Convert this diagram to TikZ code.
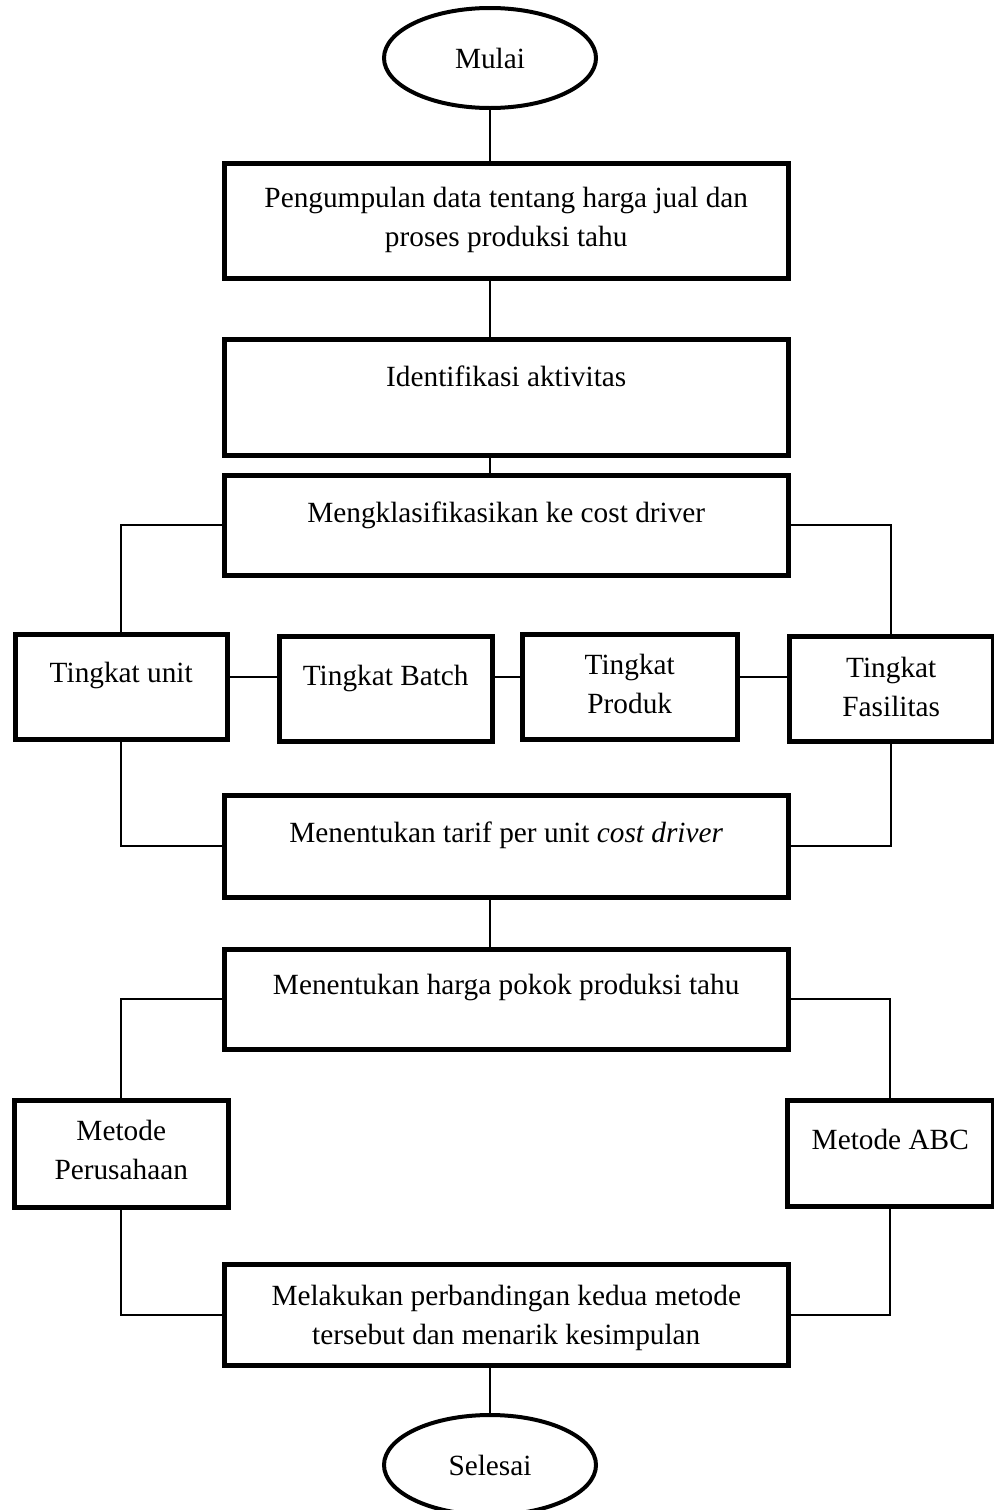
\documentclass[tikz,border=0pt]{standalone}
\usepackage{fontspec}
\setmainfont{Liberation Serif}
\usetikzlibrary{calc}
\usetikzlibrary{shapes.geometric}

\newcommand{\huruf}{\fontsize{14.65pt}{19.5pt}\selectfont}

\begin{document}
\begin{tikzpicture}[x=0.5pt, y=-0.5pt,
    kotak/.style={draw, line width=2.25pt, rectangle, anchor=north west,
        inner xsep=0pt, inner ysep=0pt, align=center, font=\huruf},
    terminal/.style={draw, line width=2pt, ellipse, minimum width=106pt,
        minimum height=50pt, inner sep=0pt, font=\huruf},
    garis/.style={line width=0.8pt}]

            % Page frame
            \path[fill=white, use as bounding box] (0,0) rectangle (993,1510);

            \def\lebar{282pt} % width of the main boxes
            \def\kiri{222}    % left side of the main boxes

            % Draw start
            \node[terminal] (mulai) at (490,58) {Mulai};

            % Draw main steps
            \node[kotak, minimum width=\lebar, text height=41.5pt, text depth=16pt] (kumpul) at (\kiri,161)
                {Pengumpulan data tentang harga jual dan\\proses produksi tahu};
            \node[kotak, minimum width=\lebar, text height=23.5pt, text depth=34.5pt] (identifikasi) at (\kiri,337)
                {Identifikasi aktivitas};
            \node[kotak, minimum width=\lebar, text height=23.5pt, text depth=26.5pt] (klasifikasi) at (\kiri,473)
                {Mengklasifikasikan ke cost driver};

            % Draw cost driver levels
            \node[kotak, minimum width=106pt, text height=24pt, text depth=28.5pt] (unit) at (13,632)
                {Tingkat unit};
            \node[kotak, minimum width=106.5pt, text height=24.5pt, text depth=28pt] (batch) at (277,634)
                {Tingkat Batch};
            \node[kotak, minimum width=107.5pt, text height=39.5pt, text depth=13pt] (produk) at (520,632)
                {Tingkat\\Produk};
            \node[kotak, minimum width=102pt, text height=40pt, text depth=12.5pt] (fasilitas) at (787,634)
                {Tingkat\\Fasilitas};

            \node[kotak, minimum width=\lebar, text height=23.5pt, text depth=27.5pt] (tarif) at (\kiri,793)
                {Menentukan tarif per unit \textit{cost driver}};
            \node[kotak, minimum width=\lebar, text height=22.5pt, text depth=27.5pt] (hpp) at (\kiri,947)
                {Menentukan harga pokok produksi tahu};

            % Draw both methods
            \node[kotak, minimum width=107pt, text height=39.5pt, text depth=14pt] (perusahaan) at (12,1098)
                {Metode\\Perusahaan};
            \node[kotak, minimum width=103pt, text height=24.5pt, text depth=28.5pt] (abc) at (785,1098)
                {Metode ABC};

            \node[kotak, minimum width=\lebar, text height=40pt, text depth=10.5pt] (banding) at (\kiri,1262)
                {Melakukan perbandingan kedua metode\\tersebut dan menarik kesimpulan};

            % Draw end
            \node[terminal] (selesai) at (490,1465) {Selesai};

            % Draw spine
            \draw[garis] (mulai.south) -- (mulai.south |- kumpul.north);
            \draw[garis] (kumpul.south -| mulai.south) -- (identifikasi.north -| mulai.south);
            \draw[garis] (identifikasi.south -| mulai.south) -- (klasifikasi.north -| mulai.south);
            \draw[garis] (tarif.south -| mulai.south) -- (hpp.north -| mulai.south);
            \draw[garis] (banding.south -| mulai.south) -- (selesai.north);

            % Draw branches to the levels
            \coordinate (baris) at (0,677);
            \draw[garis] (klasifikasi.west) -| (unit.north);
            \draw[garis] (klasifikasi.east) -| (fasilitas.north);
            \draw[garis] (unit.east |- baris) -- (batch.west |- baris);
            \draw[garis] (batch.east |- baris) -- (produk.west |- baris);
            \draw[garis] (produk.east |- baris) -- (fasilitas.west |- baris);
            \draw[garis] (unit.south) |- (tarif.west);
            \draw[garis] (fasilitas.south) |- (tarif.east);

            % Draw branches to the methods
            \draw[garis] (hpp.west) -| (perusahaan.north);
            \draw[garis] (hpp.east) -| (abc.north);
            \draw[garis] (perusahaan.south) |- (banding.west);
            \draw[garis] (abc.south) |- (banding.east);
\end{tikzpicture}
\end{document}
